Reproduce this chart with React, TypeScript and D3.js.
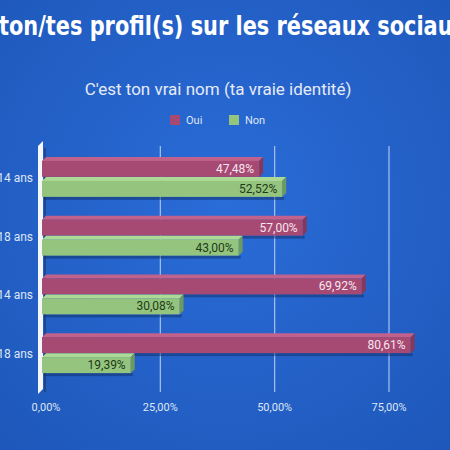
import React from "react";
import * as d3 from "d3";

const width = 450;
const height = 450;

const categories = ["Garçons 11-14 ans", "Garçons 15-18 ans", "Filles 11-14 ans", "Filles 15-18 ans"];
const series = ["Oui", "Non"];
const oui = [47.48, 57.0, 69.92, 80.61];
const non = [52.52, 43.0, 30.08, 19.39];
const ticks = [0, 25, 50, 75];

const colors: Record<string, { front: string; top: string; side: string; text: string }> = {
  Oui: { front: "#a64a74", top: "#c0628c", side: "#86385b", text: "#f6e6ef" },
  Non: { front: "#95c47f", top: "#acd996", side: "#6f9a5e", text: "#1d3a18" },
};

const depth = 4;
const fmt = (v: number) => v.toFixed(2).replace(".", ",") + "%";

export default function App() {
  // back plane scale (gridlines, tick labels); front faces are shifted left/down by depth
  const xBack = d3.scaleLinear().domain([0, 75]).range([46, 389]);
  const y = d3.scaleBand<string>().domain(categories).range([148.5, 383.5]);
  const inner = d3.scaleBand<string>().domain(series).range([-21, 19]);

  const values: Record<string, number[]> = { Oui: oui, Non: non };

  return (
    <svg width={width} height={height} style={{ position: "absolute", left: 0, top: 0 }}>
      <defs>
        <radialGradient id="bg" cx="50%" cy="45%" r="75%">
          <stop offset="0%" stopColor="#2a6cd8" />
          <stop offset="100%" stopColor="#1e57b9" />
        </radialGradient>
      </defs>
      <rect width={width} height={height} fill="url(#bg)" />

      {/* title runs past both edges, as in the source image */}
      <text
        x={-1}
        y={35}
        fill="#ffffff"
        fontFamily="'Liberation Sans Narrow', 'DejaVu Sans Condensed', sans-serif"
        fontWeight="bold"
        fontSize={26}
        textLength={467}
        lengthAdjust="spacingAndGlyphs"
      >
        ton/tes profil(s) sur les réseaux sociaux
      </text>

      <text x={218} y={95} textAnchor="middle" fill="#e6ebf7" fontFamily="Roboto, sans-serif" fontSize={17}>
        C'est ton vrai nom (ta vraie identité)
      </text>

      {/* legend */}
      {series.map((s, i) => (
        <g key={s} transform={`translate(${170 + i * 59},115)`}>
          <rect width={10} height={10} fill={colors[s].front} />
          <text x={16} y={9} fill="#dfe6f5" fontFamily="Roboto, sans-serif" fontSize={11}>
            {s}
          </text>
        </g>
      ))}

      {/* gridlines */}
      {ticks.slice(1).map((t) => (
        <line key={t} x1={xBack(t)} x2={xBack(t)} y1={146} y2={392} stroke="#a9c2ee" strokeWidth={1.2} />
      ))}

      {/* left wall */}
      <polygon points="38,146 43,141 43,389 38,394" fill="#f4f6fa" />
      <line x1={45} x2={45} y1={148} y2={392} stroke="#1a2b4a" strokeWidth={1.5} opacity={0.6} />

      {/* bars */}
      {categories.map((c, ci) => {
        const cy = (y(c) ?? 0) + y.bandwidth() / 2;
        return (
          <g key={c}>
            {series.map((s) => {
              const v = values[s][ci];
              const top = cy + (inner(s) ?? 0);
              const fy = top + depth;
              const fh = inner.bandwidth() - depth;
              const x0 = xBack(0) - depth;
              const x1 = xBack(v) - depth;
              const col = colors[s];
              return (
                <g key={s}>
                  <rect x={x0 + 2} y={fy + fh} width={x1 - x0} height={3} fill="#0d2a5c" opacity={0.45} />
                  <polygon
                    points={`${x0},${fy} ${x0 + depth},${top} ${x1 + depth},${top} ${x1},${fy}`}
                    fill={col.top}
                  />
                  <polygon
                    points={`${x1},${fy} ${x1 + depth},${top} ${x1 + depth},${top + fh} ${x1},${fy + fh}`}
                    fill={col.side}
                  />
                  <rect x={x0} y={fy} width={x1 - x0} height={fh} fill={col.front} />
                  <text
                    x={x1 - 5}
                    y={fy + fh / 2 + 4}
                    textAnchor="end"
                    fill={col.text}
                    fontFamily="Roboto, sans-serif"
                    fontSize={12}
                  >
                    {fmt(v)}
                  </text>
                </g>
              );
            })}
            <text
              x={33}
              y={cy + 4}
              textAnchor="end"
              fill="#dfe6f5"
              fontFamily="Roboto, sans-serif"
              fontSize={12}
            >
              {c}
            </text>
          </g>
        );
      })}

      {/* x tick labels */}
      {ticks.map((t) => (
        <text
          key={t}
          x={xBack(t)}
          y={411}
          textAnchor="middle"
          fill="#dfe6f5"
          fontFamily="Roboto, sans-serif"
          fontSize={11}
        >
          {fmt(t)}
        </text>
      ))}
    </svg>
  );
}
